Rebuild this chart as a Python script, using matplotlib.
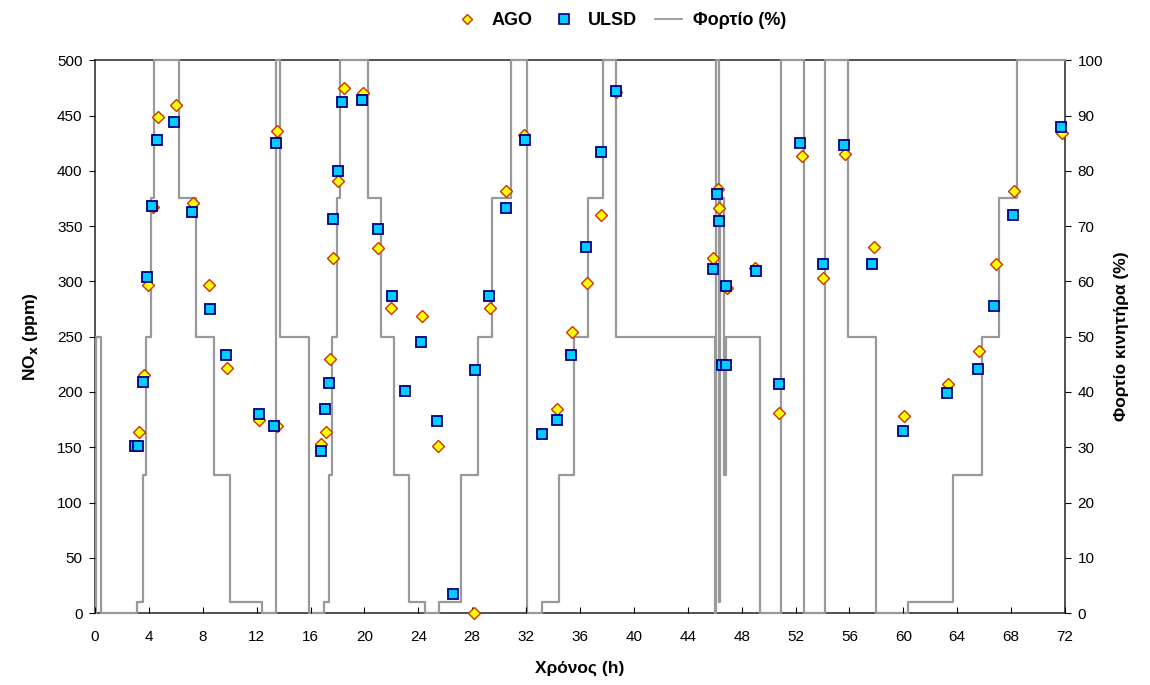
import matplotlib.pyplot as plt
from matplotlib.lines import Line2D

plt.rcParams['font.family'] = ['Liberation Sans', 'DejaVu Sans']

# NOx measurements (time in h, ppm)
ago_t = [3.3, 3.65, 3.95, 4.3, 4.65, 6.0, 7.25, 8.45, 9.8, 12.15, 13.5, 13.5,
         16.8, 17.15, 17.45, 17.7, 18.05, 18.45, 19.9, 21.0, 22.0, 24.25, 25.45,
         28.15, 29.3, 30.5, 31.85, 34.3, 35.4, 36.5, 37.55, 38.7,
         45.9, 46.25, 46.35, 46.9, 49.0, 50.8, 52.45, 54.05, 55.7, 57.8,
         60.05, 63.3, 65.6, 66.85, 68.2, 71.75]
ago_nox = [164, 215, 297, 367, 449, 460, 371, 297, 222, 175, 169, 436,
           153, 164, 230, 321, 391, 475, 470, 330, 276, 269, 151,
           0, 276, 382, 432, 185, 254, 299, 360, 471,
           321, 384, 366, 294, 312, 181, 413, 303, 415, 331,
           178, 207, 237, 316, 382, 434]

ulsd_t = [2.97, 3.22, 3.6, 3.85, 4.2, 4.63, 5.87, 7.2, 8.5, 9.75, 12.15, 13.3, 13.4,
          16.8, 17.1, 17.4, 17.68, 18.02, 18.37, 19.85, 20.98, 22.02, 22.98,
          24.2, 25.4, 26.55, 28.17, 29.25, 30.5, 31.9, 33.17, 34.27, 35.35,
          36.45, 37.55, 38.65, 45.9, 46.18, 46.3, 46.55, 46.8, 46.86, 49.1,
          50.8, 52.35, 54.0, 55.6, 57.7, 59.95, 63.25, 65.55, 66.75, 68.15, 71.7]
ulsd_nox = [151, 151, 209, 304, 368, 428, 444, 363, 275, 233, 180, 169, 425,
            147, 185, 208, 356, 400, 462, 464, 347, 287, 201,
            245, 174, 17, 220, 287, 366, 428, 162, 175, 233,
            331, 417, 472, 311, 379, 355, 224, 224, 296, 309,
            207, 425, 316, 423, 316, 165, 199, 221, 278, 360, 440]

# engine load steps (time in h, % from that time on)
load_t = [0.0, 0.08, 0.45, 3.1, 3.55, 3.75, 4.15, 4.4, 6.25, 7.5, 8.8, 10.0,
          12.4, 13.45, 13.75, 15.9, 17.0, 17.4, 17.6, 18.0, 18.2, 20.3, 21.2,
          22.2, 23.3, 24.5, 25.55, 27.15, 28.4, 29.45, 30.9, 32.1, 33.2, 34.45,
          35.55, 36.6, 37.7, 38.7, 46.05, 46.12, 46.28, 46.38, 46.72, 46.85,
          49.35, 50.9, 52.6, 54.2, 55.9, 58.0, 60.35, 63.7, 65.85, 67.1, 68.45, 72.0]
load_pct = [0, 50, 0, 2, 25, 50, 75, 100, 75, 50, 25, 2,
            0, 100, 50, 0, 2, 25, 50, 75, 100, 75, 50,
            25, 2, 0, 2, 25, 50, 75, 100, 0, 2, 25,
            50, 75, 100, 50, 0, 100, 2, 75, 25, 50,
            0, 100, 0, 100, 50, 0, 2, 25, 50, 75, 100, 100]

fig = plt.figure(figsize=(11.5, 6.85), dpi=100)
ax = fig.add_axes([0.0826, 0.105, 0.8435, 0.807])
ax2 = ax.twinx()

# load line underneath, markers on top
ax2.plot(load_t, load_pct, drawstyle='steps-post', color='#999999', lw=1.6,
         zorder=3, clip_on=False)
ax.set_zorder(ax2.get_zorder() + 1)
ax.patch.set_visible(False)
for s in ax.spines.values():
    s.set_visible(False)
for s in ax2.spines.values():
    s.set_color('#333333')
    s.set_linewidth(1.2)

ax.plot(ago_t, ago_nox, ls='none', marker='D', ms=6.5, mfc='#FFFF00',
        mec='#CC3300', mew=1.0, zorder=4, clip_on=False)
ax.plot(ulsd_t, ulsd_nox, ls='none', marker='s', ms=7.5, mfc='#00CCFF',
        mec='#000080', mew=1.3, zorder=5, clip_on=False)

ax.set_xlim(0, 72)
ax.set_ylim(0, 500)
ax2.set_ylim(0, 100)
ax.set_xticks(range(0, 73, 4))
ax.set_yticks(range(0, 501, 50))
ax2.set_yticks(range(0, 101, 10))

ax.tick_params(axis='x', direction='in', length=4, labelsize=11, pad=12)
ax.tick_params(axis='y', direction='out', length=4, labelsize=11, pad=5)
ax2.tick_params(axis='y', direction='out', length=4, labelsize=11, pad=5)

ax.set_xlabel('Χρόνος (h)', fontsize=12.5, fontweight='bold', labelpad=12)
ax.set_ylabel(r'NO$_{\mathbf{x}}$ (ppm)', fontsize=12.5, fontweight='bold', labelpad=12)
ax2.set_ylabel('Φορτίο κινητήρα (%)', fontsize=12.5, fontweight='bold', labelpad=8)

handles = [
    Line2D([], [], ls='none', marker='D', ms=5.5, mfc='#FFFF00', mec='#CC3300', mew=1.0),
    Line2D([], [], ls='none', marker='s', ms=6.5, mfc='#00CCFF', mec='#000080', mew=1.2),
    Line2D([], [], color='#999999', lw=1.3),
]
fig.legend(handles, ['AGO', 'ULSD', 'Φορτίο (%)'], loc='center',
           bbox_to_anchor=(0.539, 0.97), ncol=3, frameon=False,
           prop={'weight': 'bold', 'size': 13}, handlelength=1.5,
           handletextpad=0.6, columnspacing=1.0)

fig.savefig('out.png', dpi=100)
